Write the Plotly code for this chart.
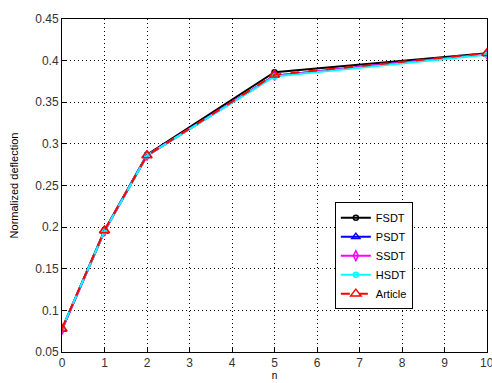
import plotly.graph_objects as go

n = [0, 1, 2, 5, 10]
fsdt = [0.078, 0.196, 0.287, 0.386, 0.409]
psdt = [0.077, 0.195, 0.286, 0.382, 0.408]
ssdt = [0.077, 0.195, 0.286, 0.382, 0.408]
hsdt = [0.078, 0.195, 0.286, 0.381, 0.407]
article = [0.078, 0.196, 0.286, 0.383, 0.409]

x_ticks = list(range(0, 11))
x_labels = [str(v) for v in x_ticks]
y_ticks = [0.05, 0.1, 0.15, 0.2, 0.25, 0.3, 0.35, 0.4, 0.45]
y_labels = ["0.05", "0.1", "0.15", "0.2", "0.25", "0.3", "0.35", "0.4", "0.45"]

series = [
    ("FSDT", fsdt, "#000000", "circle-open", "solid", 5),
    ("PSDT", psdt, "#0000ff", "triangle-up-open", "solid", 7),
    ("SSDT", ssdt, "#ff00ff", "diamond-tall-open", "solid", 7),
    ("HSDT", hsdt, "#00ffff", "circle-open", "solid", 5),
    ("Article", article, "#ff0000", "triangle-up-open", "dash", 9),
]

FONT = "Liberation Sans, Arial"

fig = go.Figure()
for name, vals, color, sym, dash, size in series:
    fig.add_trace(go.Scatter(
        x=n, y=vals, name=name, mode="lines+markers",
        line=dict(color=color, width=2, dash=dash),
        marker=dict(symbol=sym, size=size, color=color, line=dict(color=color, width=1.5)),
    ))

axis_common = dict(
    showline=True, linecolor="#000000", linewidth=1, mirror=True,
    showgrid=True, gridcolor="#000000", griddash="1px,3px", gridwidth=1,
    ticks="inside", ticklen=4, tickcolor="#000000",
    tickfont=dict(family=FONT, size=12, color="#333333"),
    zeroline=False,
)

# Last x tick label ("10") sits at the right edge and is partly cut, as in the reference
fig.add_annotation(
    x=x_ticks[-1], y=0, xref="x", yref="paper", text=x_labels[-1],
    showarrow=False, yanchor="top", yshift=-2,
    font=dict(family=FONT, size=12, color="#333333"),
)

fig.update_layout(
    width=492, height=383,
    margin=dict(l=62, r=5, t=19, b=31, autoexpand=False),
    paper_bgcolor="white", plot_bgcolor="white",
    showlegend=True,
    legend=dict(
        x=0.642, y=0.45, xanchor="left", yanchor="top",
        bgcolor="white", bordercolor="#000000", borderwidth=1,
        font=dict(family=FONT, size=11, color="#000000"),
        tracegroupgap=0, itemwidth=30,
    ),
    xaxis=dict(range=[0, 10], tickvals=x_ticks[:-1], ticktext=x_labels[:-1],
               title=dict(text="n", font=dict(family=FONT, size=10, color="#000000"), standoff=2),
               automargin=False, **axis_common),
    yaxis=dict(range=[0.05, 0.45], tickvals=y_ticks, ticktext=y_labels,
               title=dict(text="Normalized deflection", font=dict(family=FONT, size=11, color="#000000"), standoff=14),
               automargin=False, **axis_common),
)

fig.write_html("out.html", config={"displayModeBar": False},
               post_script="document.body.style.margin='0';document.body.style.overflow='hidden';")
